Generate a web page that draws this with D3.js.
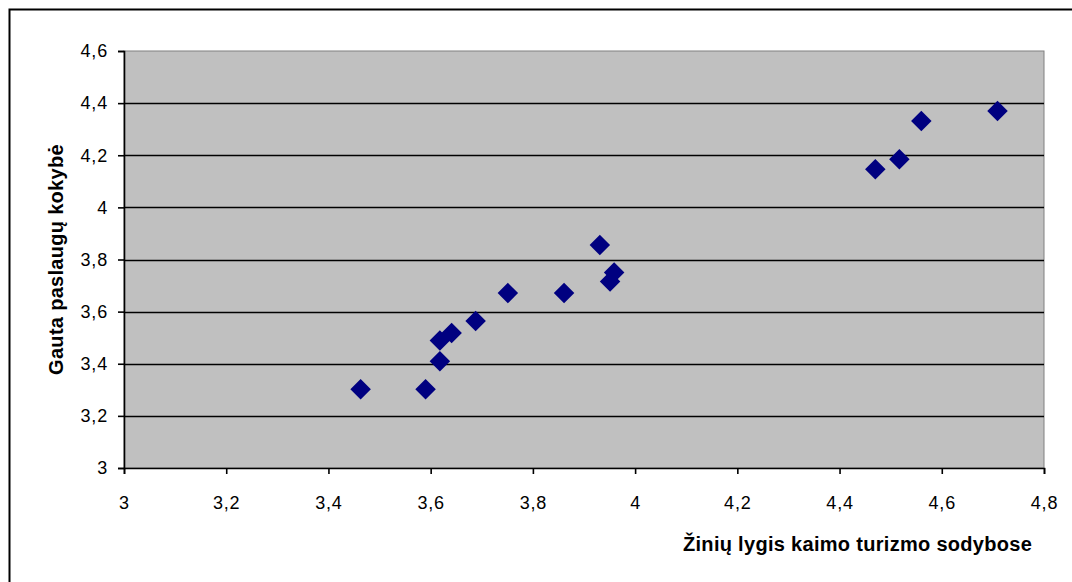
<!DOCTYPE html>
<html>
<head>
<meta charset="utf-8">
<script src="https://cdn.jsdelivr.net/npm/d3@7"></script>
<style>
  html, body { margin: 0; padding: 0; background: #fff; }
  svg { display: block; }
</style>
</head>
<body>
<svg id="chart" width="1072" height="582"></svg>
<script>
// Knowledge level (x) vs. received service quality (y)
const knowledgeLevel = [3.463, 3.590, 3.618, 3.618, 3.641, 3.688, 3.751, 3.861, 3.931, 3.951, 3.959, 4.470, 4.517, 4.560, 4.709];
const serviceQuality = [3.302, 3.302, 3.410, 3.489, 3.518, 3.564, 3.671, 3.671, 3.856, 3.716, 3.750, 4.146, 4.185, 4.331, 4.370];
const xTicks = [3, 3.2, 3.4, 3.6, 3.8, 4, 4.2, 4.4, 4.6, 4.8];
const yTicks = [3, 3.2, 3.4, 3.6, 3.8, 4, 4.2, 4.4, 4.6];
const xTitle = "Žinių lygis kaimo turizmo sodybose";
const yTitle = "Gauta paslaugų kokybė";

const svg = d3.select("#chart");
const font = "'Liberation Sans', Arial, sans-serif";
const plot = { left: 124, top: 51, right: 1044, bottom: 468 };

const x = d3.scaleLinear().domain([3, 4.8]).range([plot.left, plot.right]);
const y = d3.scaleLinear().domain([3, 4.6]).range([plot.bottom, plot.top]);
const fmt = d => String(d).replace(".", ",");

// outer chart frame
svg.append("rect")
  .attr("x", 9.5).attr("y", 9.5)
  .attr("width", 1100).attr("height", 600)
  .attr("fill", "#fff").attr("stroke", "#000").attr("stroke-width", 2);

// plot background
svg.append("rect")
  .attr("x", plot.left).attr("y", plot.top)
  .attr("width", plot.right - plot.left).attr("height", plot.bottom - plot.top)
  .attr("fill", "#c0c0c0").attr("stroke", "#808080").attr("stroke-width", 1);

// horizontal gridlines
svg.append("g").selectAll("line")
  .data(yTicks.filter(t => t > 3 && t < 4.6))
  .join("line")
  .attr("x1", plot.left).attr("x2", plot.right)
  .attr("y1", d => Math.round(y(d)) + 0.5).attr("y2", d => Math.round(y(d)) + 0.5)
  .attr("stroke", "#000").attr("stroke-width", 1.6);

// y axis
const yAxis = svg.append("g")
  .attr("transform", `translate(${plot.left},0)`)
  .call(d3.axisLeft(y).tickValues(yTicks).tickFormat(fmt).tickSize(6).tickPadding(10));
// x axis
const xAxis = svg.append("g")
  .attr("transform", `translate(0,${plot.bottom})`)
  .call(d3.axisBottom(x).tickValues(xTicks).tickFormat(fmt).tickSize(6).tickPadding(22));

[xAxis, yAxis].forEach(g => {
  g.select(".domain").attr("stroke", "#000").attr("stroke-width", 1.6);
  g.selectAll(".tick line").attr("stroke", "#000").attr("stroke-width", 1.6);
  g.selectAll(".tick text")
    .attr("fill", "#000")
    .style("font-family", font)
    .style("font-size", "18px")
    .style("letter-spacing", "0.8px");
});

// data markers (diamonds)
const diamond = d3.symbol().type(d3.symbolSquare).size(210);
svg.append("g").selectAll("path")
  .data(knowledgeLevel.map((k, i) => [k, serviceQuality[i]]))
  .join("path")
  .attr("d", diamond)
  .attr("transform", d => `translate(${x(d[0])},${y(d[1])}) rotate(45)`)
  .attr("fill", "#000080");

// axis titles
const titleStyle = sel => sel
  .style("font-family", font).style("font-size", "20px").style("font-weight", "bold")
  .style("letter-spacing", "0.3px")
  .attr("fill", "#000");

svg.append("text")
  .attr("x", 683).attr("y", 551)
  .call(titleStyle)
  .text(xTitle);

svg.append("text")
  .attr("transform", `translate(63,${(plot.top + plot.bottom) / 2}) rotate(-90)`)
  .attr("text-anchor", "middle")
  .call(titleStyle)
  .text(yTitle);
</script>
</body>
</html>
